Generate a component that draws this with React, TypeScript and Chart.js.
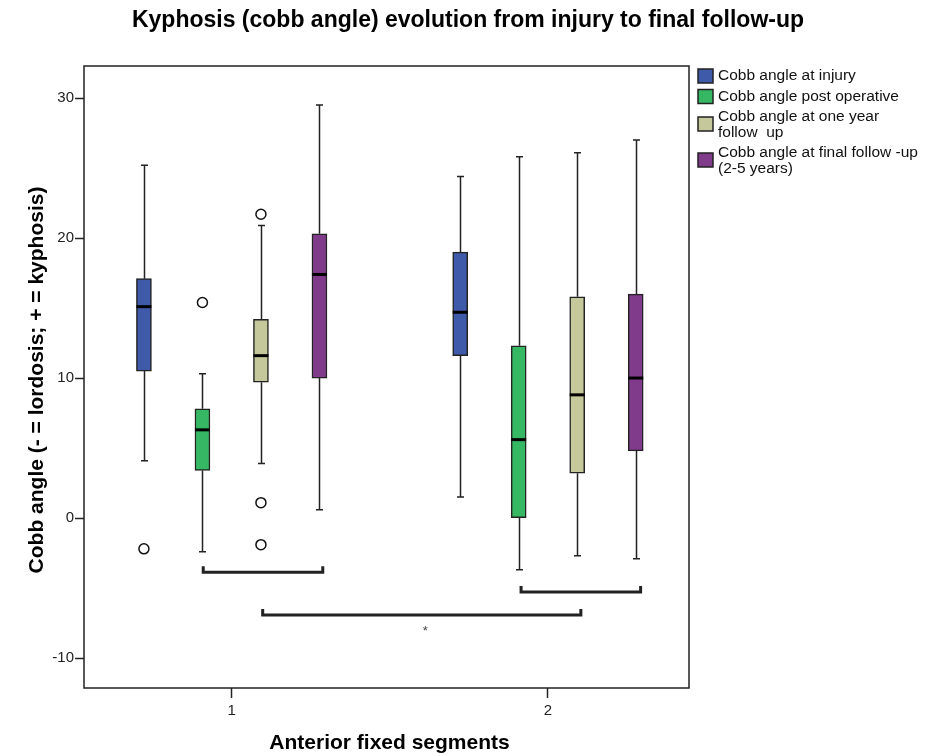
import React, { useEffect, useRef } from "react";
import { Chart, registerables } from "chart.js";

Chart.register(...registerables);

// ---------- data ----------
const categories = [1, 2];
const xTickLabels = ["1", "2"];
const yTicks = [-10, 0, 10, 20, 30];

const chartTitle = "Kyphosis (cobb angle) evolution from injury to final follow-up";
const xAxisTitle = "Anterior fixed segments";
const yAxisTitle = "Cobb angle (- = lordosis; + = kyphosis)";

const seriesLabels = [
  ["Cobb angle at injury"],
  ["Cobb angle post operative"],
  ["Cobb angle at one year", "follow  up"],
  ["Cobb angle at final follow -up", "(2-5 years)"],
];
const seriesColors = ["#3F5AA8", "#36B763", "#C5C89B", "#803B8B"];
const seriesOffsets = [-0.2775, -0.0925, 0.0925, 0.2775];

// [min, q1, median, q3, max] per category (1, 2)
const injuryStats = [
  [4.1, 10.5, 15.1, 17.1, 25.2],
  [1.5, 11.6, 14.7, 19.0, 24.4],
];
const postOpStats = [
  [-2.4, 3.4, 6.3, 7.8, 10.3],
  [-3.7, 0.0, 5.6, 12.3, 25.8],
];
const oneYearStats = [
  [3.9, 9.7, 11.6, 14.2, 20.9],
  [-2.7, 3.2, 8.8, 15.8, 26.1],
];
const finalStats = [
  [0.6, 10.0, 17.4, 20.3, 29.5],
  [-2.9, 4.8, 10.0, 16.0, 27.0],
];
// outliers: [category, value]
const injuryOutliers = [[1, -2.2]];
const postOpOutliers = [[1, 15.4]];
const oneYearOutliers = [
  [1, 21.7],
  [1, 1.1],
  [1, -1.9],
];
const finalOutliers: number[][] = [];

// significance brackets: [xStart, xEnd, y]
const brackets = [
  [0.91, 1.288, -3.88],
  [1.098, 2.104, -6.93],
  [1.915, 2.293, -5.29],
];
const starMark = [1.612, -7.95];

const allStats = [injuryStats, postOpStats, oneYearStats, finalStats];
const allOutliers = [injuryOutliers, postOpOutliers, oneYearOutliers, finalOutliers];

const FONT = '"Liberation Sans", Arial, sans-serif';

const boxPlugin = {
  id: "boxExtras",
  beforeDatasetsDraw(chart: any) {
    const { ctx, scales } = chart;
    const x = scales.x;
    const y = scales.y;
    ctx.save();
    ctx.strokeStyle = "#222";
    ctx.lineWidth = 1.5;
    allStats.forEach((stats, si) => {
      stats.forEach((st, ci) => {
        const cx = Math.round(x.getPixelForValue(categories[ci] + seriesOffsets[si])) + 0.5;
        const [mn, q1, , q3, mx] = st;
        const pMin = y.getPixelForValue(mn);
        const pQ1 = y.getPixelForValue(q1);
        const pQ3 = y.getPixelForValue(q3);
        const pMax = y.getPixelForValue(mx);
        ctx.beginPath();
        ctx.moveTo(cx, pQ3);
        ctx.lineTo(cx, pMax);
        ctx.moveTo(cx - 3.5, pMax);
        ctx.lineTo(cx + 3.5, pMax);
        ctx.moveTo(cx, pQ1);
        ctx.lineTo(cx, pMin);
        ctx.moveTo(cx - 3.5, pMin);
        ctx.lineTo(cx + 3.5, pMin);
        ctx.stroke();
      });
    });
    ctx.restore();
  },
  afterDatasetsDraw(chart: any) {
    const { ctx, scales } = chart;
    const x = scales.x;
    const y = scales.y;
    ctx.save();
    // medians
    ctx.strokeStyle = "#000";
    ctx.lineWidth = 3;
    allStats.forEach((stats, si) => {
      stats.forEach((st, ci) => {
        const cx = x.getPixelForValue(categories[ci] + seriesOffsets[si]);
        const py = y.getPixelForValue(st[2]);
        ctx.beginPath();
        ctx.moveTo(cx - 7.5, py);
        ctx.lineTo(cx + 7.5, py);
        ctx.stroke();
      });
    });
    // brackets
    ctx.strokeStyle = "#222";
    ctx.lineWidth = 3;
    ctx.lineJoin = "miter";
    brackets.forEach(([x0, x1, yv]) => {
      const px0 = x.getPixelForValue(x0);
      const px1 = x.getPixelForValue(x1);
      const py = y.getPixelForValue(yv);
      ctx.beginPath();
      ctx.moveTo(px0, py - 6);
      ctx.lineTo(px0, py);
      ctx.lineTo(px1, py);
      ctx.lineTo(px1, py - 6);
      ctx.stroke();
    });
    ctx.fillStyle = "#444";
    ctx.font = `13px ${FONT}`;
    ctx.textAlign = "center";
    ctx.textBaseline = "middle";
    ctx.fillText("*", x.getPixelForValue(starMark[0]), y.getPixelForValue(starMark[1]) + 2);
    ctx.restore();
  },
  afterDraw(chart: any) {
    const { ctx, chartArea } = chart;
    ctx.save();
    // frame
    ctx.strokeStyle = "#222";
    ctx.lineWidth = 1.5;
    ctx.strokeRect(chartArea.left, chartArea.top, chartArea.right - chartArea.left, chartArea.bottom - chartArea.top);

    // title
    ctx.fillStyle = "#000";
    ctx.textAlign = "center";
    ctx.textBaseline = "middle";
    ctx.font = `bold 23px ${FONT}`;
    ctx.fillText(chartTitle, 468, 21);

    // x axis title
    ctx.font = `bold 21px ${FONT}`;
    ctx.fillText(xAxisTitle, (chartArea.left + chartArea.right) / 2 + 3, 743);

    // y axis title
    ctx.save();
    ctx.translate(37, (chartArea.top + chartArea.bottom) / 2 + 3);
    ctx.rotate(-Math.PI / 2);
    ctx.fillText(yAxisTitle, 0, 0);
    ctx.restore();

    // legend
    ctx.font = `15.5px ${FONT}`;
    ctx.textAlign = "left";
    let lineY = 76;
    const boxX = chartArea.right + 9;
    const textX = chartArea.right + 29;
    seriesLabels.forEach((lines, i) => {
      const boxCenter = lines.length > 1 ? lineY + 7 : lineY;
      ctx.fillStyle = seriesColors[i];
      ctx.fillRect(boxX, boxCenter - 7, 15, 14);
      ctx.strokeStyle = "#222";
      ctx.lineWidth = 1.5;
      ctx.strokeRect(boxX, boxCenter - 7, 15, 14);
      ctx.fillStyle = "#111";
      lines.forEach((t, li) => {
        ctx.fillText(t, textX, lineY + li * 15.5);
      });
      lineY += (lines.length - 1) * 15.5 + 20.5;
    });
    ctx.restore();
  },
};

export default function App() {
  const canvasRef = useRef<HTMLCanvasElement | null>(null);

  useEffect(() => {
    const canvas = canvasRef.current;
    if (!canvas) return;

    const boxDatasets = allStats.map((stats, si) => ({
      type: "bar" as const,
      label: seriesLabels[si].join(" "),
      data: stats.map((st, ci) => ({ x: categories[ci] + seriesOffsets[si], y: [st[1], st[3]] })),
      backgroundColor: seriesColors[si],
      borderColor: "#222",
      borderWidth: 1.5,
      borderSkipped: false,
      barThickness: 15,
      grouped: false,
      order: 2,
    }));

    const outlierDatasets = allOutliers.map((outs, si) => ({
      type: "scatter" as const,
      label: seriesLabels[si].join(" ") + " outliers",
      data: outs.map(([c, v]) => ({ x: c + seriesOffsets[si], y: v })),
      pointStyle: "circle",
      pointRadius: 5,
      backgroundColor: "#fff",
      borderColor: "#111",
      borderWidth: 1.5,
      order: 1,
    }));

    const chart = new Chart(canvas, {
      type: "bar",
      data: { datasets: [...boxDatasets, ...outlierDatasets] as any },
      plugins: [boxPlugin],
      options: {
        responsive: false,
        animation: false,
        layout: { padding: { top: 66, right: 255, left: 0, bottom: 0 } },
        plugins: {
          legend: { display: false },
          title: { display: false },
          tooltip: { enabled: false },
        },
        scales: {
          x: {
            type: "linear",
            min: 0.533,
            max: 2.446,
            offset: false,
            afterFit: (s: any) => {
              s.height = 68;
            },
            afterBuildTicks: (s: any) => {
              s.ticks = categories.map((v) => ({ value: v }));
            },
            ticks: {
              font: { size: 15, family: FONT },
              color: "#222",
              padding: 4,
              maxRotation: 0,
              callback: (v: any) => {
                const i = categories.indexOf(Number(v));
                return i >= 0 ? xTickLabels[i] : "";
              },
            },
            grid: {
              display: true,
              offset: false,
              drawOnChartArea: false,
              drawTicks: true,
              tickLength: 10,
              tickColor: "#222",
              tickWidth: 1.5,
            },
            border: { display: false },
          },
          y: {
            type: "linear",
            min: -12.14,
            max: 32.29,
            afterFit: (s: any) => {
              s.width = 84;
            },
            afterBuildTicks: (s: any) => {
              s.ticks = yTicks.map((v) => ({ value: v }));
            },
            ticks: {
              font: { size: 15, family: FONT },
              color: "#222",
              padding: 1,
            },
            grid: {
              display: true,
              drawOnChartArea: false,
              drawTicks: true,
              tickLength: 9,
              tickColor: "#222",
              tickWidth: 1.5,
            },
            border: { display: false },
          },
        },
      } as any,
    });

    return () => {
      chart.destroy();
    };
  }, []);

  return (
    <div style={{ position: "absolute", left: 0, top: 0, width: 944, height: 756, background: "#fff" }}>
      <canvas ref={canvasRef} width={944} height={756} style={{ display: "block", width: 944, height: 756 }} />
    </div>
  );
}
